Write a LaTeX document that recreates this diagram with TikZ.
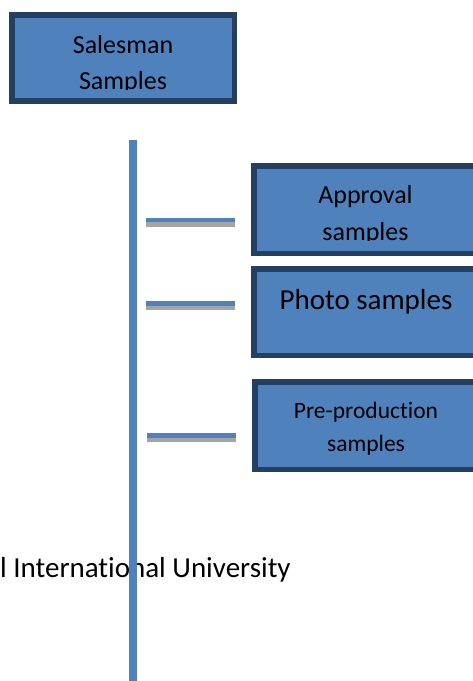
\documentclass[tikz,border=0pt]{standalone}
\usepackage{fontspec}
\setmainfont{Carlito}[Ligatures=NoCommon]
\definecolor{boxfill}{HTML}{4F81BD}
\definecolor{boxline}{HTML}{243F60}
\definecolor{stubgray}{HTML}{A5A5A5}

\begin{document}
\begin{tikzpicture}[x=1pt,y=-1pt]
    \tikzstyle{sbox}=[draw=boxline,fill=boxfill,line width=5.5pt,inner sep=0pt,anchor=north west]
    \tikzstyle{stub}=[line width=4.5pt]
    \tikzstyle{lbl}=[inner sep=0pt,anchor=base]

    \useasboundingbox (0,0) rectangle (473,681);
    \clip (0,0) rectangle (473,681);

    % boxes
    \node[sbox,minimum width=222.75pt,minimum height=86pt] (salesman) at (9,12) {};
    \node[sbox,minimum width=240pt,minimum height=87.5pt] (approval) at (251,163) {};
    \node[sbox,minimum width=240pt,minimum height=86.5pt] (photo) at (251,266) {};
    \node[sbox,minimum width=240pt,minimum height=87.5pt] (preprod) at (252.3,379.3) {};

    \begin{scope}
        \clip (0,0) rectangle (473,89.5);
        \node[lbl,font=\fontsize{26}{31}\selectfont] (salesmanA) at (123,53) {Salesman};
        \node[lbl,font=\fontsize{26}{31}\selectfont] (salesmanB) at (123,89.5) {Samples};
    \end{scope}

    \begin{scope}
        \clip (240,160) rectangle (473,240.5);
        \node[lbl,font=\fontsize{26}{31}\selectfont] (approvalA) at (365.5,203) {Approval};
        \node[lbl,font=\fontsize{26}{31}\selectfont] (approvalB) at (365.5,240.5) {samples};
    \end{scope}

    \node[lbl,font=\fontsize{29}{35}\selectfont] (photoA) at (366,309) {Photo samples};
    \node[lbl,font=\fontsize{23.5}{28}\selectfont] (preprodA) at (366,418) {Pre-production};
    \node[lbl,font=\fontsize{23.5}{28}\selectfont] (preprodB) at (366,451) {samples};

    \node[inner sep=0pt,anchor=base west,font=\fontsize{29}{35}\selectfont] (univ) at (0,577) {l International University};

    % stubs
    \foreach \n/\y/\xa in {1/220/146, 2/303.5/146, 3/435.5/147} {
        \coordinate (s\n a) at (\xa,\y);
        \coordinate (s\n b) at (\xa+89,\y);
        \coordinate (g\n a) at (\xa,\y+4.5);
        \coordinate (g\n b) at (\xa+89,\y+4.5);
        \draw[stub,stubgray] (g\n a) -- (g\n b);
        \draw[stub,boxfill] (s\n a) -- (s\n b);
    }

    % spine
    \coordinate (top) at (132.5,139.5);
    \coordinate (bottom) at (132.5,681);
    \draw[line width=8pt,boxfill] (top) -- (bottom);

\end{tikzpicture}
\end{document}
